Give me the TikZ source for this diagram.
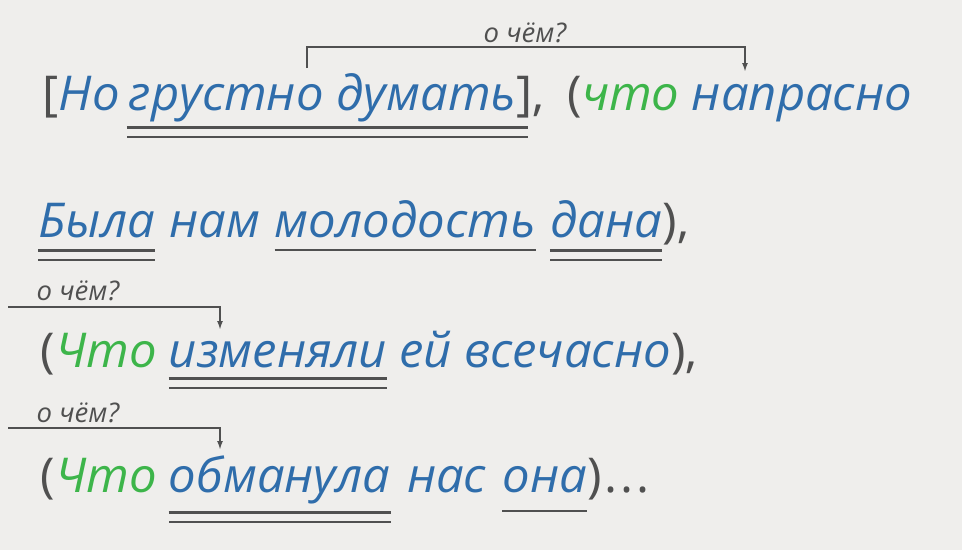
\documentclass[tikz,border=0pt]{standalone}
\usepackage{fontspec}
\setmainfont{Open Sans}[FakeStretch=1.02]
\usetikzlibrary{positioning,arrows.meta}
\definecolor{paper}{HTML}{EFEEEC}
\definecolor{wordblue}{HTML}{2F6DAB}
\definecolor{conjgreen}{HTML}{3DB54A}
\definecolor{markgrey}{HTML}{505050}

\begin{document}
\begin{tikzpicture}[x=1pt,y=-1pt]
\tikzstyle{word}=[inner sep=0pt, anchor=base west, font=\fontsize{48}{58}\selectfont\itshape, text=wordblue]
\tikzstyle{conj}=[word, text=conjgreen]
\tikzstyle{punct}=[word, font=\fontsize{48}{58}\selectfont\upshape, text=markgrey]
\tikzstyle{gap}=[xshift=12pt]
\tikzstyle{ask}=[inner sep=0pt, font=\fontsize{27}{32}\selectfont\itshape, text=markgrey]
\tikzstyle{link}=[draw=markgrey, line width=2.4pt, -{Latex[length=9pt,width=6pt]}]
\tikzstyle{subj}=[draw=markgrey, line width=2.8pt]
\tikzstyle{pred}=[draw=markgrey, line width=2.8pt, double=paper, double distance=7pt]

\fill[paper] (0,0) rectangle (962,550);
\useasboundingbox (0,0) rectangle (962,550);

% line 1
	\node[punct] (br1) at (42,110) {[};
	\node[word] (ho) at (br1.base east) {Но};
	\node[word, xshift=9pt] (grust) at (ho.base east) {грустно думать};
	\node[punct] (br1c) at (grust.base east) {],};
	\node[punct, xshift=22pt] (par1) at (br1c.base east) {(};
	\node[conj] (chto1) at (par1.base east) {что};
	\node[word, gap] (napr) at (chto1.base east) {напрасно};

% line 2
	\node[word] (byla) at (38,237) {Была};
	\node[word, xshift=14pt] (nam) at (byla.base east) {нам};
	\node[word, xshift=14pt] (mol) at (nam.base east) {молодость};
	\node[word, xshift=14pt] (dana) at (mol.base east) {дана};
	\node[punct] (par2c) at (dana.base east) {),};

% line 3
	\node[punct] (par3) at (40,367) {(};
	\node[conj] (chto3) at (par3.base east) {Что};
	\node[word, gap] (izm) at (chto3.base east) {изменяли};
	\node[word, gap] (ei) at (izm.base east) {ей};
	\node[word, gap] (vse) at (ei.base east) {всечасно};
	\node[punct] (par3c) at (vse.base east) {),};

% line 4
	\node[punct] (par4) at (40,492) {(};
	\node[conj] (chto4) at (par4.base east) {Что};
	\node[word, gap] (obm) at (chto4.base east) {обманула};
	\node[word, xshift=16pt] (nas) at (obm.base east) {нас};
	\node[word, xshift=16pt] (ona) at (nas.base east) {она};
	\node[punct] (par4c) at (ona.base east) {)\kern3pt.\kern3pt.\kern3pt.};

% questions
	\node[ask] (ask1) at (525,33) {о чём?};
	\node[ask] (ask3) at (78,291) {о чём?};
	\node[ask] (ask4) at (78,413) {о чём?};

	\coordinate (q1a) at (307,68);
	\coordinate (q1b) at (745,72);
	\coordinate (q3a) at (8,307);
	\coordinate (q3b) at (220,330);
	\coordinate (q4a) at (8,428);
	\coordinate (q4b) at (220,450);

	\draw[link] (q1a) -- ++(0,-21) -| (q1b);
	\draw[link] (q3a) -| (q3b);
	\draw[link] (q4a) -| (q4b);

% underlines
	\draw[pred] ([xshift=-2pt,yshift=-22pt]grust.base west) -- ([xshift=12pt,yshift=-22pt]br1c.base west);
	\draw[pred] ([yshift=-18pt]byla.base west) -- ([yshift=-18pt]byla.base east);
	\draw[subj] ([yshift=-13pt]mol.base west) -- ([yshift=-13pt]mol.base east);
	\draw[pred] ([yshift=-18pt]dana.base west) -- ([yshift=-18pt]dana.base east);
	\draw[pred] ([yshift=-16pt]izm.base west) -- ([yshift=-16pt]izm.base east);
	\draw[pred] ([yshift=-25pt]obm.base west) -- ([yshift=-25pt]obm.base east);
	\draw[subj] ([yshift=-19pt]ona.base west) -- ([yshift=-19pt]ona.base east);
\end{tikzpicture}
\end{document}
